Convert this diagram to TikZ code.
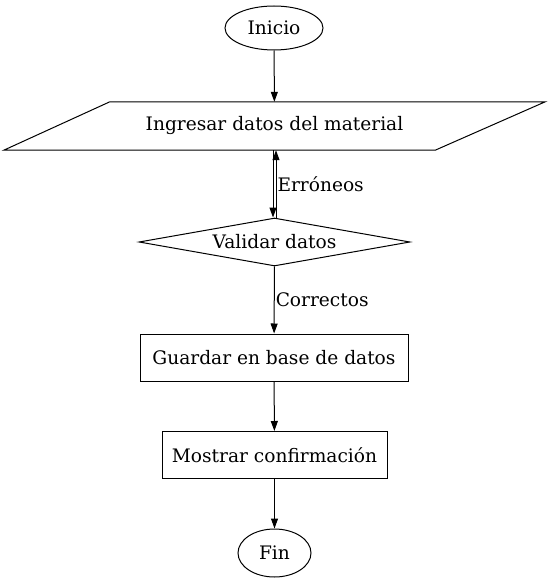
\documentclass[tikz,border=0pt]{standalone}
\usepackage{fontspec}
\setmainfont{DejaVu Serif}
\usetikzlibrary{shapes.geometric,arrows.meta}
\begin{document}
\begin{tikzpicture}[x=1pt,y=-1pt,
  every node/.style={font=\fontsize{18.6}{22}\selectfont},
  base/.style={draw,line width=1pt,inner sep=0pt},
  oval/.style={base,ellipse,minimum width=98pt,minimum height=44pt},
  inbox/.style={inner sep=0pt,rectangle,minimum height=48pt,minimum width=541pt},
  decision/.style={base,diamond,aspect=5.6,minimum width=271pt,minimum height=48pt},
  proc/.style={base,rectangle,minimum height=47pt},
  edge/.style={draw,line width=1pt,-{Triangle[length=10pt,width=7pt]}},
  lbl/.style={anchor=west,inner sep=1pt}]
\useasboundingbox (0,0) rectangle (549,583);
\node[oval] (inicio) at (274,28) {Inicio};
\node[inbox] (ingresar) at (274.5,126) {Ingresar datos del material};
\draw[line width=1pt] (ingresar.south west) -- ([xshift=-110pt]ingresar.south east)
  -- (ingresar.north east) -- ([xshift=106pt]ingresar.north west) -- cycle;
\node[decision] (validar) at (274.5,242) {Validar datos};
\node[proc,minimum width=268pt] (guardar) at (274,357.5) {Guardar en base de datos};
\node[proc,minimum width=225pt] (mostrar) at (274.5,455) {Mostrar confirmación};
\node[oval,minimum width=73pt,minimum height=48pt] (fin) at (274.5,553) {Fin};
\draw[edge] (inicio) -- (ingresar);
\draw[edge] ([xshift=-1.5pt]ingresar.south) -- ([xshift=-1.5pt]validar.north);
\draw[edge] ([xshift=1.5pt]validar.north) -- node[lbl,pos=0.5] {Erróneos} ([xshift=1.5pt]ingresar.south);
\draw[edge] (validar) -- node[lbl,pos=0.5] {Correctos} (guardar);
\draw[edge] (guardar) -- (mostrar);
\draw[edge] (mostrar) -- (fin);
\end{tikzpicture}
\end{document}
